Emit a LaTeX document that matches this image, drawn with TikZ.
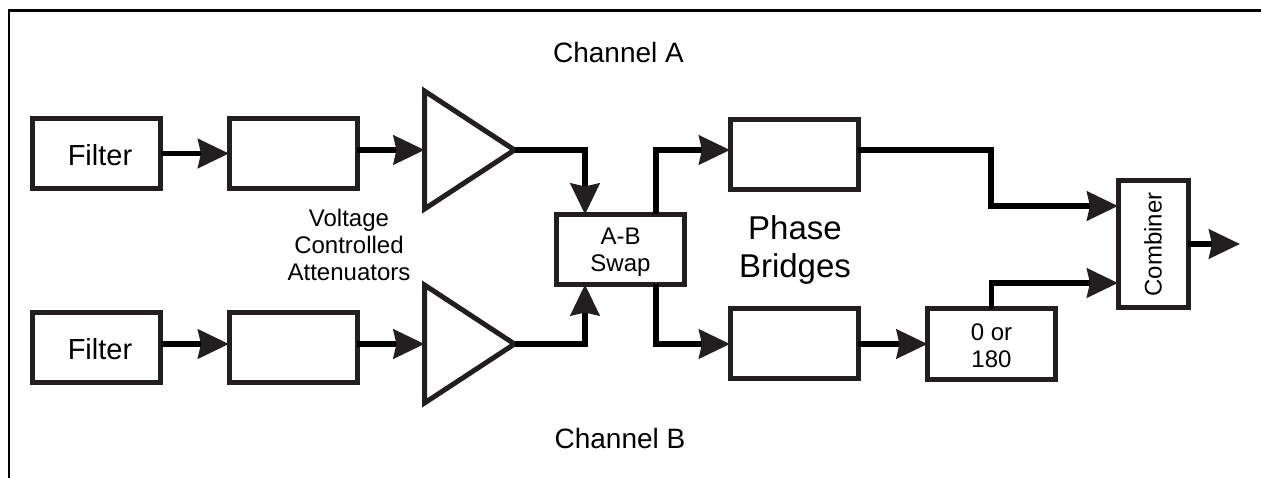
\documentclass[tikz,border=0pt]{standalone}
\usepackage{fontspec}
\setmainfont{Liberation Sans}
\usetikzlibrary{arrows.meta}
\usetikzlibrary{shapes.geometric}
\definecolor{inkblack}{HTML}{231F20}
\renewcommand{\arraystretch}{1.03}
\newcommand{\lowtext}[2]{\raisebox{#1}[\height][\depth]{\begin{tabular}{@{}c@{}}#2\end{tabular}}}
\tikzset{
  block/.style={draw=inkblack,line width=5pt,minimum width=128pt,minimum height=70pt,inner sep=0pt,outer sep=0pt,font=\fontsize{24}{27}\selectfont,align=center},
  amp/.style={draw=inkblack,line width=5pt,shape=isosceles triangle,shape border rotate=0,isosceles triangle stretches,minimum width=118pt,minimum height=90pt,inner sep=0pt,outer sep=0pt,anchor=lower side},
  wire/.style={line width=5.5pt,-{Stealth[inset=3pt,length=31pt,width=29pt,color=inkblack]},black},
  lbl/.style={font=\fontsize{24}{27}\selectfont,align=center}
}
\begin{document}
\begin{tikzpicture}[x=1pt,y=-1pt]
    \useasboundingbox (0,0) rectangle (1261,478);
    \draw[line width=2.6pt,black] (9,478)--(9,10.5)--(1261,10.5);
    % channel A
    \node[block,font=\fontsize{29}{34}\selectfont] (filtA) at (96.5,153.5) {\hspace*{7pt}\lowtext{-5pt}{Filter}};
    \node[block] (vcaA) at (293,153.5) {};
    \node[amp] (ampA) at (424.5,150) {};
    % channel B
    \node[block,font=\fontsize{29}{34}\selectfont] (filtB) at (96.5,347.5) {\hspace*{7pt}\lowtext{-5pt}{Filter}};
    \node[block] (vcaB) at (293,347.5) {};
    \node[amp] (ampB) at (424.5,344) {};
    % swap and bridges
    \node[block] (swap) at (620.5,249.5) {\lowtext{-3pt}{A-B\\Swap}};
    \node[block] (bridgeA) at (794,155) {};
    \node[block] (bridgeB) at (794,343.5) {};
    \node[block] (phase) at (991.5,344) {\lowtext{-4.5pt}{0 or\\180}};
    \node[block,minimum width=70pt,minimum height=127pt] (comb) at (1153,244.5) {\rotatebox{90}{Combiner}};
    % labels
    \node[lbl,font=\fontsize{28}{34}\selectfont] (chanA) at (618.5,52) {Channel A};
    \node[lbl,font=\fontsize{28}{34}\selectfont] (chanB) at (620,438) {Channel B};
    \node[lbl] (vcalbl) at (349,245) {Voltage\\Controlled\\Attenuators};
    \node[lbl,font=\fontsize{33}{38}\selectfont] (bridgelbl) at (795,250) {Phase\\Bridges};
    % connectors
    \coordinate (out) at (1240,244);
    \draw[wire] (filtA.east)--(vcaA.west);
    \draw[wire] (vcaA.east |- ampA.lower side)--(ampA.lower side);
    \draw[wire] (filtB.east |- ampB.lower side)--(vcaB.west |- ampB.lower side);
    \draw[wire] (vcaB.east |- ampB.lower side)--(ampB.lower side);
    \draw[wire] (ampA.apex) -| (swap.north -| 585,0);
    \draw[wire] (ampB.apex) -| (swap.south -| 585,0);
    \draw[wire] (swap.north -| 656,0) |- (bridgeA.west |- ampA.apex);
    \draw[wire] (swap.south -| 656,0) |- (bridgeB.west |- ampB.apex);
    \draw[wire] (bridgeA.east |- ampA.apex) -| (991,206) -- (comb.west |- 0,206);
    \draw[wire] (bridgeB.east |- ampB.apex)--(phase.west |- ampB.apex);
    \draw[wire] (phase.north) |- (comb.west |- 0,283);
    \draw[wire] (comb.east |- out)--(out);
\end{tikzpicture}
\end{document}
